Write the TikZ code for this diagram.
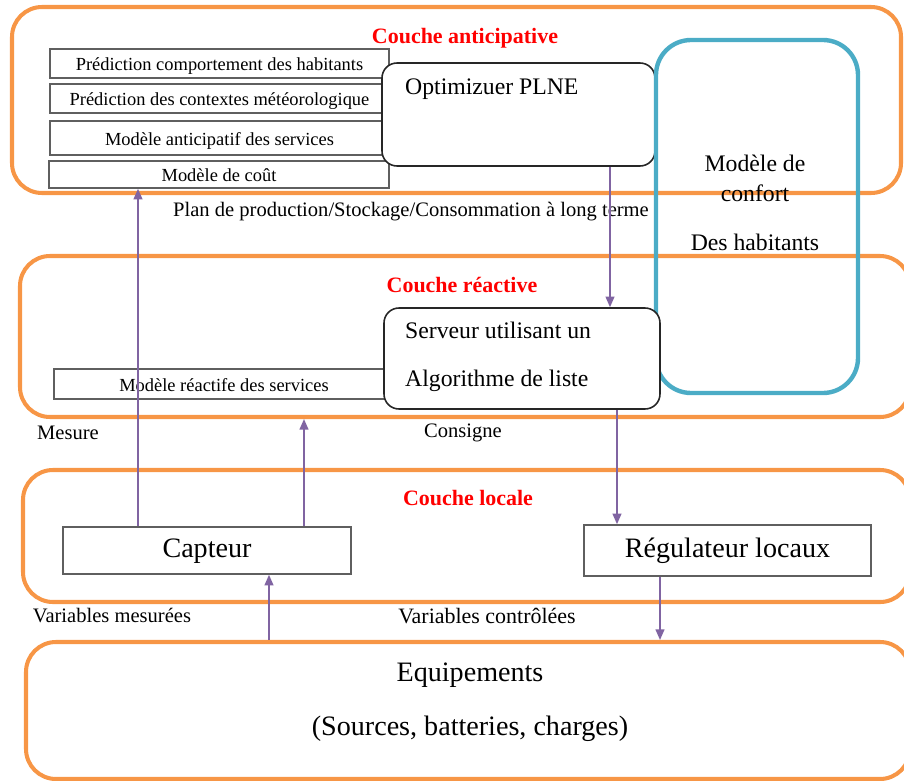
\documentclass[tikz,border=0pt]{standalone}
\usepackage{fontspec}
\setmainfont{Liberation Serif}
\usetikzlibrary{arrows.meta,fit}

\definecolor{orangeC}{RGB}{247,150,70}
\definecolor{bleuC}{RGB}{75,172,198}
\definecolor{violetC}{RGB}{128,100,162}
\definecolor{grisC}{RGB}{95,95,95}

\begin{document}
\begin{tikzpicture}[x=0.02cm,y=-0.02cm,
  couche/.style={draw=orangeC,line width=2.3pt,rounded corners=0.6cm,inner sep=0pt},
  modele/.style={draw=grisC,line width=0.9pt,fill=white,inner sep=0pt,text height=8pt,text depth=0pt,font=\fontsize{10.5}{12}\selectfont},
  grand/.style={text height=11pt,text depth=3pt,font=\fontsize{16}{19}\selectfont},
  bloc/.style={draw=black!85,line width=0.9pt,fill=white,rounded corners=0.3cm,inner sep=0pt},
  titre/.style={text=red,font=\bfseries\fontsize{12.5}{15}\selectfont},
  legende/.style={font=\fontsize{11.7}{14}\selectfont},
  fleche/.style={draw=violetC,line width=0.9pt,-{Triangle[length=6pt,width=5pt]}}]
\useasboundingbox (0,0) rectangle (904,781);
\clip (0,0) rectangle (904,781);

\node[couche,fit={(12,7) (901,193)}] (anticip) {};
\node[couche,fit={(20,256) (910,417)}] (reactive) {};
\node[couche,fit={(23,470) (910,602)}] (locale) {};
\node[couche,fit={(26,642) (910,779)}] (equip) {};

\node[titre] (tAnticip) at (465,38) {Couche anticipative};
\node[titre] (tReactive) at (462,285) {Couche réactive};
\node[titre] (tLocale) at (468,498) {Couche locale};

\node[modele,minimum width=6.78cm,minimum height=0.58cm] (predHab) at (219.5,63.5) {Prédiction comportement des habitants};
\node[modele,minimum width=6.78cm,minimum height=0.58cm] (predMeteo) at (219.5,98.5) {Prédiction des contextes météorologique};
\node[modele,minimum width=6.78cm,minimum height=0.68cm] (modAnticip) at (219.5,138) {Modèle anticipatif des services};
\node[modele,minimum width=6.8cm,minimum height=0.54cm] (cout) at (219,174.5) {Modèle de coût};

\node[bloc,fit={(382,63) (655,166)}] (optim) {};
\node[font=\fontsize{13.5}{16}\selectfont,anchor=west] (optimTxt) at (399,89) {Optimizuer PLNE};

\node[draw=bleuC,line width=2.5pt,rounded corners=0.7cm,inner sep=0pt,fit={(656,40) (858,393)}] (confort) {};
\node[font=\fontsize{13.5}{17}\selectfont,align=center] (confortTxt) at (755,203) {Modèle de\\confort\\[11pt]Des habitants};

\node[legende] (plan) at (411,212) {Plan de production/Stockage/Consommation à long terme};

\node[modele,minimum width=6.8cm,minimum height=0.6cm] (modReact) at (224,384) {Modèle réactife des services};
\node[bloc,fit={(384,308) (660,409)}] (serveur) {};
\node[font=\fontsize{13.5}{27}\selectfont,align=left,anchor=west] (serveurTxt) at (399,357) {Serveur utilisant un\\Algorithme de liste};

\node[legende] (mesure) at (68,433) {Mesure};
\node[legende] (consigne) at (463,433) {Consigne};

\node[modele,grand,minimum width=5.76cm,minimum height=0.94cm] (capteur) at (207,550.5) {Capteur};
\node[modele,grand,minimum width=5.74cm,minimum height=1.02cm] (regulateur) at (727.5,550.5) {Régulateur locaux};

\node[legende] (varMes) at (112,616) {Variables mesurées};
\node[legende,font=\fontsize{12.5}{14}\selectfont] (varCtrl) at (487,616) {Variables contrôlées};

\node[font=\fontsize{16}{31}\selectfont,align=center] (equipTxt) at (470,702) {Equipements\\(Sources, batteries, charges)};

% abscisses des fleches
\coordinate (xMesure) at (138,0);
\coordinate (xCapteur) at (304,0);
\coordinate (xPlan) at (610,0);
\coordinate (xConsigne) at (617,0);
\coordinate (xVarMes) at (269,0);
\coordinate (xVarCtrl) at (660,0);

\draw[fleche] (capteur.north -| xMesure) -- (cout.south -| xMesure);
\draw[fleche] (capteur.north -| xCapteur) -- (reactive.south -| xCapteur);
\draw[fleche] (optim.south -| xPlan) -- (serveur.north -| xPlan);
\draw[fleche] (serveur.south -| xConsigne) -- (regulateur.north -| xConsigne);
\draw[fleche] (equip.north -| xVarMes) -- (capteur.south -| xVarMes);
\draw[fleche] (regulateur.south -| xVarCtrl) -- (equip.north -| xVarCtrl);
\end{tikzpicture}
\end{document}
